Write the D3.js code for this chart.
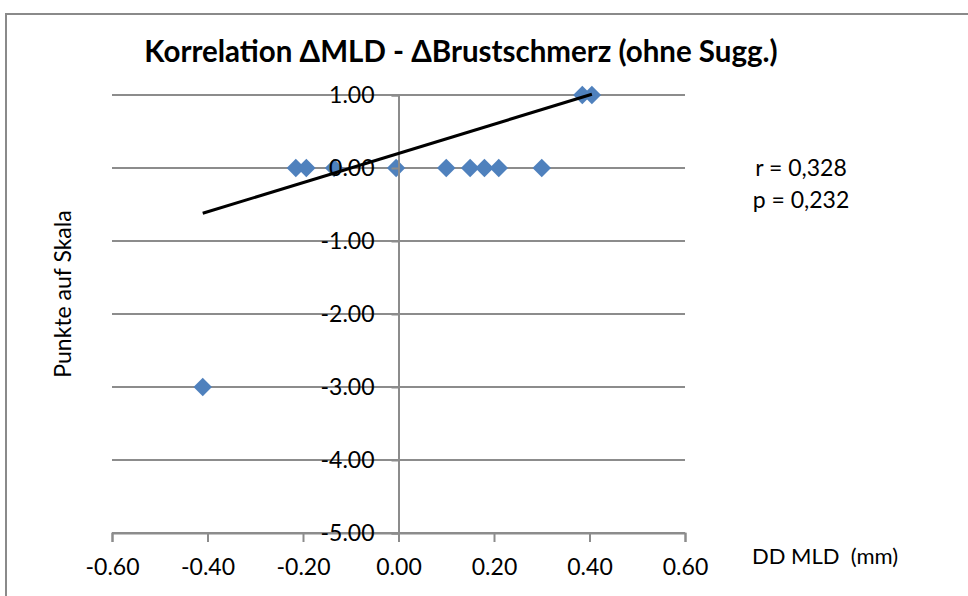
<!DOCTYPE html>
<html>
<head>
<meta charset="utf-8">
<script src="https://cdn.jsdelivr.net/npm/d3@7"></script>
<style>
    body { margin: 0; background: #fff; }
    text { font-family: Lato, "Open Sans", sans-serif; fill: #000; }
</style>
</head>
<body>
<svg id="chart" width="968" height="596"></svg>
<script>
// scatter data: change in MLD (mm) vs. change in pain score
const mldDelta = [-0.41, -0.215, -0.193, -0.135, -0.005, 0.10, 0.15, 0.18, 0.21, 0.30, 0.385, 0.405];
const painDelta = [-3, 0, 0, 0, 0, 0, 0, 0, 0, 0, 1, 1];

const xTicks = [-0.6, -0.4, -0.2, 0, 0.2, 0.4, 0.6];
const yTicks = [1, 0, -1, -2, -3, -4, -5];

// linear trend line
const trendSlope = 2.0;
const trendIntercept = 0.20;

const stats = ["r = 0,328", "p = 0,232"];

const svg = d3.select("#chart");

const x = d3.scaleLinear().domain([-0.6, 0.6]).range([112, 685]);
const y = d3.scaleLinear().domain([-5, 1]).range([533, 95]);

const gridColor = "#8c8c8c";
// plain hyphen minus, two decimals
const fmt = d => d.toFixed(2);

// outer chart border
svg.append("rect")
    .attr("x", 6).attr("y", 14)
    .attr("width", 980).attr("height", 600)
    .attr("fill", "none")
    .attr("stroke", "#8a8a8a")
    .attr("stroke-width", 2);

// horizontal gridlines
svg.append("g")
    .selectAll("line")
    .data(yTicks)
    .join("line")
    .attr("x1", x(-0.6)).attr("x2", x(0.6))
    .attr("y1", d => y(d)).attr("y2", d => y(d))
    .attr("stroke", gridColor)
    .attr("stroke-width", 2);

// x axis sits at the bottom of the value range
const xAxis = svg.append("g")
    .attr("transform", `translate(0,${y(-5)})`)
    .call(d3.axisBottom(x).tickValues(xTicks).tickSize(9).tickFormat(fmt));

// y axis crosses at x = 0
const yAxis = svg.append("g")
    .attr("transform", `translate(${x(0)},0)`)
    .call(d3.axisLeft(y).tickValues(yTicks).tickSize(7).tickFormat(fmt));

[xAxis, yAxis].forEach(g => {
    g.select(".domain").attr("stroke", gridColor).attr("stroke-width", 2);
    g.selectAll(".tick line").attr("stroke", gridColor).attr("stroke-width", 2);
    g.selectAll(".tick text")
        .style("font-family", "Lato, sans-serif")
        .style("font-size", "23px")
        .attr("fill", "#000");
});

xAxis.selectAll(".tick text").attr("y", 26);
yAxis.selectAll(".tick text").attr("x", -24);

// data markers (diamonds)
const markers = svg.append("g");
markers.selectAll("path")
    .data(d3.zip(mldDelta, painDelta))
    .join("path")
    .attr("d", d3.symbol(d3.symbolSquare, 170))
    .attr("transform", d => `translate(${x(d[0])},${y(d[1])}) rotate(45)`)
    .attr("fill", "#4f81bd");

// keep tick labels above the markers
yAxis.raise();

// trend line over the data range
const xExtent = d3.extent(mldDelta);
svg.append("line")
    .attr("x1", x(xExtent[0])).attr("y1", y(trendSlope * xExtent[0] + trendIntercept))
    .attr("x2", x(xExtent[1])).attr("y2", y(trendSlope * xExtent[1] + trendIntercept))
    .attr("stroke", "#000")
    .attr("stroke-width", 3);

// title
svg.append("text")
    .attr("x", 461).attr("y", 62)
    .attr("text-anchor", "middle")
    .style("font-size", "29.5px")
    .style("font-weight", "bold")
    .text("Korrelation ΔMLD - ΔBrustschmerz (ohne Sugg.)");

// axis titles
svg.append("text")
    .attr("transform", "translate(71,294) rotate(-90)")
    .attr("text-anchor", "middle")
    .style("font-size", "23px")
    .text("Punkte auf Skala");

svg.append("text")
    .attr("x", 752).attr("y", 564)
    .attr("xml:space", "preserve")
    .style("font-size", "22px")
    .text("DD MLD  (mm)");

// correlation stats
svg.append("g")
    .selectAll("text")
    .data(stats)
    .join("text")
    .attr("x", 801)
    .attr("y", (d, i) => 176 + i * 32)
    .attr("text-anchor", "middle")
    .style("font-size", "23px")
    .text(d => d);
</script>
</body>
</html>
